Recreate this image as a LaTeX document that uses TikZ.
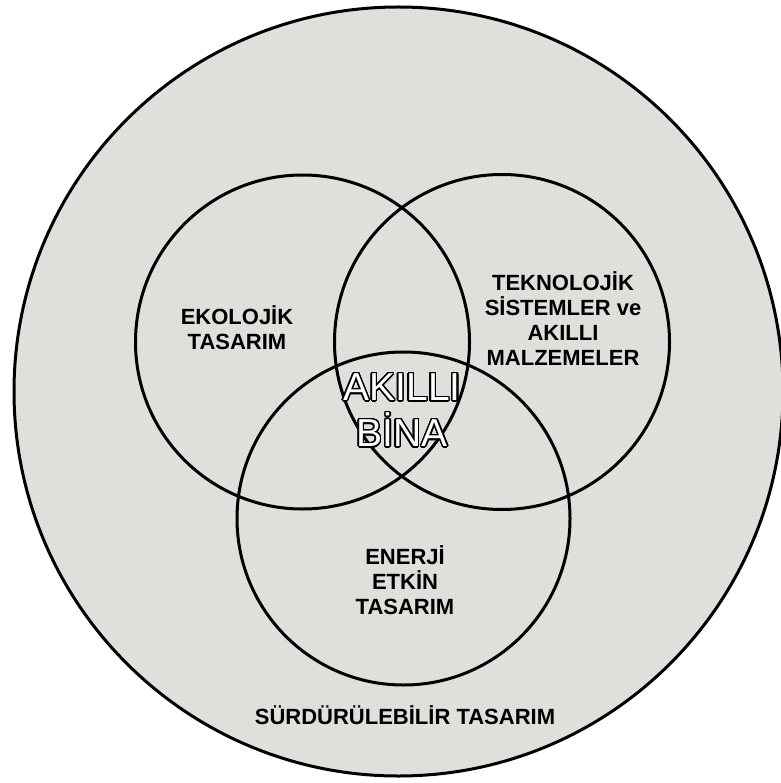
\documentclass[tikz,border=0pt]{standalone}
\usepackage{fontspec}
\setmainfont{Liberation Sans}
\usepackage[copies]{contour}
\contourlength{1.5pt}
\contournumber{24}
\definecolor{bgray}{RGB}{223,224,220}
\begin{document}
\begin{tikzpicture}[x=1pt,y=-1pt,
  ring/.style={draw=black,line width=3pt},
  lbl/.style={font=\fontsize{22}{25}\selectfont\bfseries,align=center,inner sep=0pt},
  core/.style={font=\fontsize{39}{46}\selectfont,text=white,align=center,inner sep=0pt}]
\useasboundingbox (0,0) rectangle (780,783);
\fill[white] (0,0) rectangle (780,783);
\node[circle,minimum size=769pt,inner sep=0pt,fill=bgray,ring] (outer) at (398.5,391.5) {};
\node[circle,minimum size=334pt,inner sep=0pt,ring] (eko) at (302.5,342) {};
\node[circle,minimum size=335pt,inner sep=0pt,ring] (tek) at (502,342) {};
\node[circle,minimum size=333pt,inner sep=0pt,ring] (ene) at (403.5,518.5) {};
\node[lbl] (ekot) at (237,328) {EKOLOJİK\\TASARIM};
\node[lbl] (tekt) at (563,319) {TEKNOLOJİK\\SİSTEMLER ve\\AKILLI\\MALZEMELER};
\node[lbl] (enet) at (405,580) {ENERJİ\\ETKİN\\TASARIM};
\node[lbl,anchor=base] (surt) at (405,724) {SÜRDÜRÜLEBİLİR TASARIM};
\node[core] (akilli) at (402,411) {\contour{black}{AKILLI}\\\contour{black}{BİNA}};
\end{tikzpicture}
\end{document}
